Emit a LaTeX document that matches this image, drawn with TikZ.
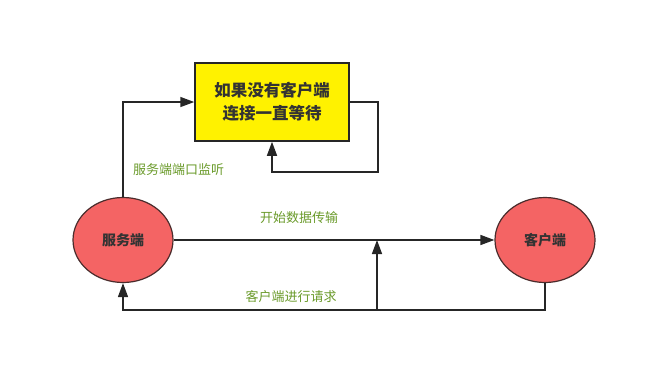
\documentclass[tikz,border=0pt]{standalone}
\usepackage{fontspec}
\setmainfont{Noto Sans CJK SC}
\usepackage{tikz}
\usetikzlibrary{shapes,arrows.meta,positioning,calc}
\definecolor{endred}{HTML}{F46464}
\definecolor{edgebrown}{HTML}{4A2C2C}
\definecolor{notegreen}{HTML}{6A9A2A}
\tikzset{
    endpoint/.style={
        ellipse,
        draw=edgebrown,
        fill=endred,
        line width=1.2pt,
        minimum width=100pt,
        minimum height=85pt,
        inner sep=0pt,
        text=black!80,
        font=\bfseries\fontsize{14}{16}\selectfont
    },
    waitbox/.style={
        rectangle,
        draw=black!85,
        fill=yellow,
        line width=1.5pt,
        align=center,
        minimum width=154pt,
        minimum height=78pt,
        text=black!80,
        font=\bfseries\fontsize{16.5}{23}\selectfont
    },
    flow/.style={
        draw=black!85,
        line width=1.5pt,
        -{Triangle[length=14pt,width=10pt]}
    },
    note/.style={
        text=notegreen,
        inner sep=0pt,
        font=\fontsize{13}{15}\selectfont
    }
}
\begin{document}
\begin{tikzpicture}[x=1pt, y=-1pt]
    \useasboundingbox (0,0) rectangle (656,373);
    \node (server) [endpoint] at (123,240) {服务端};
    \node (client) [endpoint] at (545,240) {客户端};
    \node (wait) [waitbox] at (272,102) {如果没有客户端\\连接一直等待};

    \coordinate (loopturn) at (378,172);
    \coordinate (backline) at (123,310);
    \coordinate (joinfoot) at (377,310);
    \coordinate (joinhead) at (377,240);

    \draw [flow] (server.north) |- (wait.west);
    \draw [flow] (wait.east) -| (loopturn) -| (wait.south);
    \draw [flow] (server.east) -- (client.west);
    \draw [flow] (client.south) |- (backline) -- (server.south);
    \draw [flow] (joinfoot) -- (joinhead);

    \node (listen) [note, anchor=west] at (133,170) {服务端端口监听};
    \node (transfer) [note] at (299,218) {开始数据传输};
    \node (request) [note] at (291,297) {客户端进行请求};
\end{tikzpicture}
\end{document}
